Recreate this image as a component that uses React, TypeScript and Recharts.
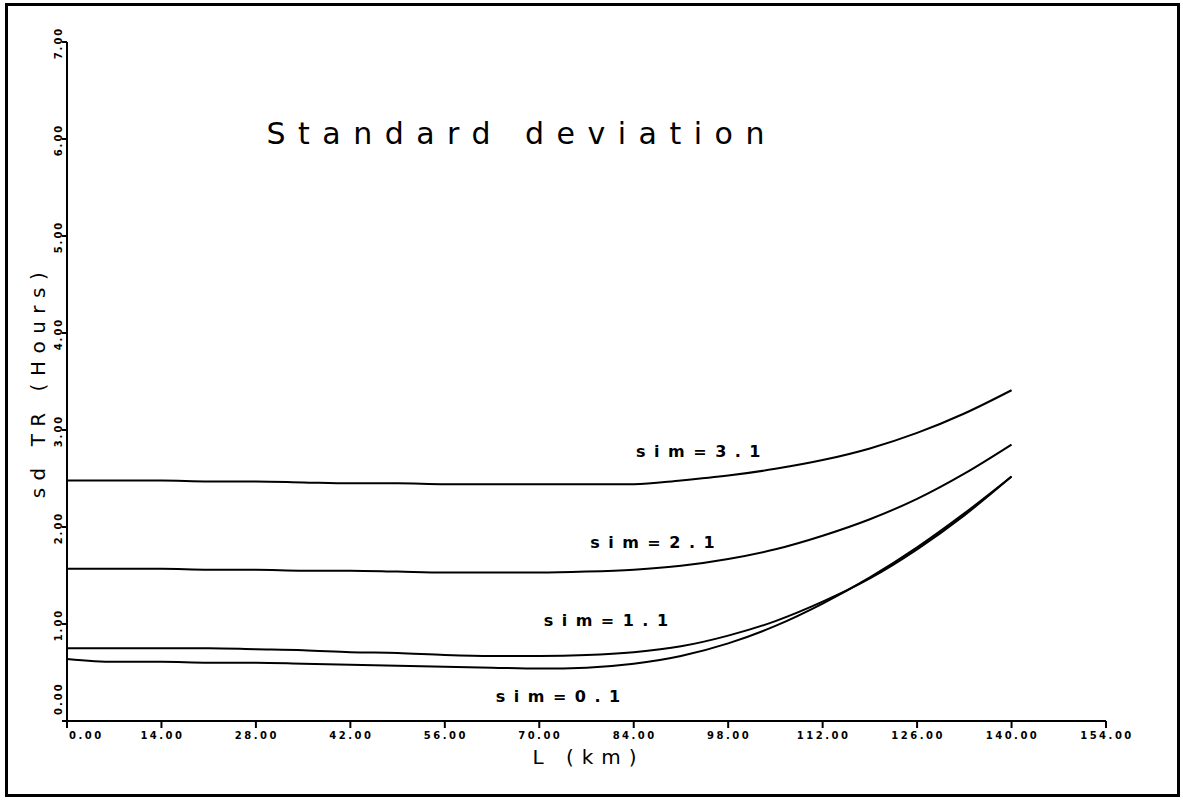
import React from 'react';
import { LineChart, Line, XAxis, YAxis, ReferenceDot, Label } from 'recharts';

const L_KM = [0, 7, 14, 21, 28, 35, 42, 49, 56, 63, 70, 77, 84, 91, 98, 105, 112, 119, 126, 133, 140];
const SIM_3_1 = [2.48, 2.48, 2.48, 2.47, 2.47, 2.46, 2.45, 2.45, 2.44, 2.44, 2.44, 2.44, 2.44, 2.48, 2.53, 2.60, 2.69, 2.81, 2.97, 3.17, 3.41];
const SIM_2_1 = [1.57, 1.57, 1.57, 1.56, 1.56, 1.55, 1.55, 1.54, 1.53, 1.53, 1.53, 1.54, 1.56, 1.60, 1.67, 1.77, 1.91, 2.08, 2.29, 2.55, 2.85];
const SIM_1_1 = [0.75, 0.75, 0.75, 0.75, 0.74, 0.73, 0.71, 0.70, 0.68, 0.67, 0.67, 0.68, 0.71, 0.77, 0.88, 1.03, 1.23, 1.47, 1.77, 2.12, 2.52];
const SIM_0_1 = [0.64, 0.61, 0.61, 0.60, 0.60, 0.59, 0.58, 0.57, 0.56, 0.55, 0.54, 0.55, 0.59, 0.67, 0.80, 0.98, 1.21, 1.48, 1.79, 2.14, 2.52];

const X_TICKS = [0, 14, 28, 42, 56, 70, 84, 98, 112, 126, 140, 154];
const Y_TICKS = [0, 1, 2, 3, 4, 5, 6, 7];

const SERIES_LABELS = [
  { text: 'sim=3.1', L: 94.2, v: 2.78 },
  { text: 'sim=2.1', L: 87.4, v: 1.84 },
  { text: 'sim=1.1', L: 80.5, v: 1.04 },
  { text: 'sim=0.1', L: 73.4, v: 0.25 },
];
const TITLE = { text: 'Standard deviation', L: 67.4, v: 6.06 };

const data = L_KM.map((L, i) => ({
  L,
  s31: SIM_3_1[i],
  s21: SIM_2_1[i],
  s11: SIM_1_1[i],
  s01: SIM_0_1[i],
}));

const FONT = '"DejaVu Sans", sans-serif';

const XTick = (props: any) => {
  const { x, y, payload } = props;
  const v = payload.value as number;
  return (
    <text
      x={v === 0 ? x + 2 : x + 1}
      y={y + 9}
      textAnchor={v === 0 ? 'start' : 'middle'}
      fontFamily={FONT}
      fontSize={10}
      fontWeight="bold"
      letterSpacing={2.5}
      fill="#000"
    >
      {v.toFixed(2)}
    </text>
  );
};

const YTick = (props: any) => {
  const { y, payload } = props;
  const v = payload.value as number;
  const px = 62;
  const py = v === 0 ? y - 6 : y + 1;
  return (
    <text
      x={px}
      y={py}
      transform={`rotate(-90, ${px}, ${py})`}
      textAnchor={v === 0 ? 'start' : 'middle'}
      fontFamily={FONT}
      fontSize={10}
      fontWeight="bold"
      letterSpacing={2}
      fill="#000"
    >
      {v.toFixed(2)}
    </text>
  );
};

const XTitle = (props: any) => {
  const vb = props.viewBox;
  const cx = vb.x + vb.width / 2 + 2;
  const cy = vb.y + 36;
  return (
    <text x={cx} y={cy} textAnchor="middle" dominantBaseline="central" fontFamily={FONT} fontSize={20} letterSpacing={8} fill="#000">
      L (km)
    </text>
  );
};

const YTitle = (props: any) => {
  const vb = props.viewBox;
  const cx = vb.x + 31;
  const cy = vb.y + vb.height / 2;
  return (
    <text
      x={cx}
      y={cy}
      transform={`rotate(-90, ${cx}, ${cy})`}
      textAnchor="middle"
      dominantBaseline="central"
      fontFamily={FONT}
      fontSize={20}
      letterSpacing={7.5}
      fill="#000"
    >
      sd TR (Hours)
    </text>
  );
};

export default function App() {
  return (
    <div style={{ position: 'absolute', left: 0, top: 0, width: 1183, height: 801, background: '#fff' }}>
      <div
        style={{
          position: 'absolute',
          left: 5,
          top: 3,
          width: 1175,
          height: 794,
          border: '3px solid #000',
          boxSizing: 'border-box',
        }}
      />
      <div style={{ position: 'absolute', left: 0, top: 0 }}>
        <LineChart width={1183} height={801} data={data} margin={{ top: 42, right: 77, bottom: 30, left: 7 }}>
          <XAxis
            dataKey="L"
            type="number"
            domain={[0, 154]}
            ticks={X_TICKS}
            interval={0}
            height={50}
            tickSize={7}
            tickMargin={2}
            axisLine={{ stroke: '#000', strokeWidth: 2 }}
            tickLine={{ stroke: '#000', strokeWidth: 2 }}
            tick={<XTick />}
            label={<XTitle />}
          />
          <YAxis
            type="number"
            domain={[0, 7]}
            ticks={Y_TICKS}
            interval={0}
            width={60}
            tickSize={5}
            axisLine={{ stroke: '#000', strokeWidth: 2 }}
            tickLine={{ stroke: '#000', strokeWidth: 2 }}
            tick={<YTick />}
            label={<YTitle />}
          />
          <Line type="monotone" dataKey="s31" stroke="#000" strokeWidth={2} dot={false} isAnimationActive={false} />
          <Line type="monotone" dataKey="s21" stroke="#000" strokeWidth={2} dot={false} isAnimationActive={false} />
          <Line type="monotone" dataKey="s11" stroke="#000" strokeWidth={2} dot={false} isAnimationActive={false} />
          <Line type="monotone" dataKey="s01" stroke="#000" strokeWidth={2} dot={false} isAnimationActive={false} />
          {SERIES_LABELS.map((s) => (
            <ReferenceDot key={s.text} x={s.L} y={s.v} r={0} fill="none" stroke="none">
              <Label
                value={s.text}
                position="center"
                fill="#000"
                fontFamily={FONT}
                fontSize={16}
                fontWeight="bold"
                letterSpacing={8.5}
              />
            </ReferenceDot>
          ))}
          <ReferenceDot x={TITLE.L} y={TITLE.v} r={0} fill="none" stroke="none">
            <Label value={TITLE.text} position="center" fill="#000" fontFamily={FONT} fontSize={30} letterSpacing={12.5} />
          </ReferenceDot>
        </LineChart>
      </div>
    </div>
  );
}
